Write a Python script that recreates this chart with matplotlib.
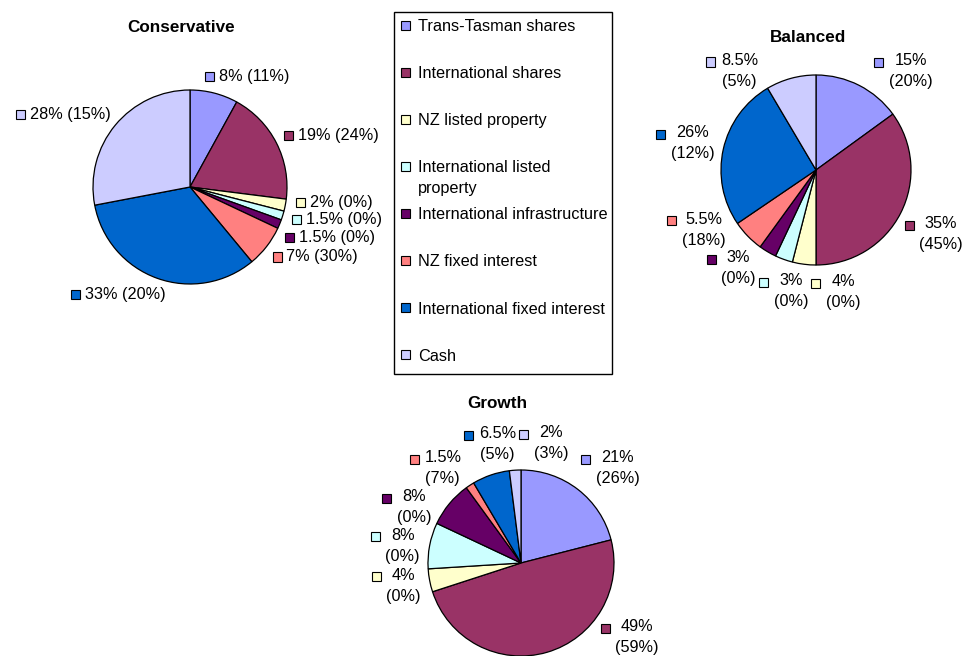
import numpy as np
import matplotlib
matplotlib.use("Agg")
import matplotlib.pyplot as plt
from matplotlib.patches import Rectangle
from matplotlib.offsetbox import DrawingArea, TextArea, HPacker, AnnotationBbox

# ---------------- data ----------------
categories = ["Trans-Tasman shares", "International shares", "NZ listed property",
              "International listed\nproperty", "International infrastructure",
              "NZ fixed interest", "International fixed interest", "Cash"]
colors = ["#9999FF", "#993366", "#FFFFCC", "#CCFFFF", "#660066",
          "#FF8080", "#0066CC", "#CCCCFF"]

conservative = [8, 19, 2, 1.5, 1.5, 7, 33, 28]
conservative_prev = [11, 24, 0, 0, 0, 30, 20, 15]
balanced = [15, 35, 4, 3, 3, 5.5, 26, 8.5]
balanced_prev = [20, 45, 0, 0, 0, 18, 12, 5]
growth = [21, 49, 4, 8, 8, 1.5, 6.5, 2]
growth_prev = [26, 59, 0, 0, 0, 7, 5, 3]

# ---------------- style / layout ----------------
plt.rcParams['font.family'] = ['Liberation Sans', 'DejaVu Sans']
W, H = 964, 656
FS = 11.7
TFS = 12.3
LS = 1.5
MK = 6.5       # marker size in points
L = 1.8        # half axis extent (in radii)
RL = 1.1       # label anchor radius
EXP = 0.25     # horizontal alignment shaping
TGAP = 7       # free band below a title (px)

fig = plt.figure(figsize=(W / 100, H / 100), dpi=100)
fig.patch.set_facecolor("white")


def px(x, y):
    """image pixel coordinates (top-left origin) -> figure fraction"""
    return x / W, 1 - y / H


def make_pie(cx, cy, r, vals):
    w = 2 * L * r / W
    h = 2 * L * r / H
    ax = fig.add_axes([cx / W - w / 2, 1 - cy / H - h / 2, w, h])
    wedges, _ = ax.pie(vals, colors=colors, startangle=90, counterclock=False,
                       wedgeprops=dict(edgecolor="black", linewidth=0.9))
    ax.set_xlim(-L, L)
    ax.set_ylim(-L, L)
    ax.set_aspect("equal")
    ax.axis("off")
    return ax, wedges


def fmt(v):
    return f"{v:g}%"


def make_box(text, color, two_line):
    ta = TextArea(text, textprops=dict(fontsize=FS, multialignment="center",
                                       linespacing=LS, color="black"))
    lh = FS * 1.15
    if two_line:
        da = DrawingArea(MK + 1, lh)
        da.add_artist(Rectangle((0.5, (lh - MK) / 2), MK, MK, facecolor=color,
                                edgecolor="black", lw=0.8))
        return HPacker(children=[da, ta], align="top", pad=0, sep=3.5)
    da = DrawingArea(MK + 1, MK + 1)
    da.add_artist(Rectangle((0.5, 0.5), MK, MK, facecolor=color,
                            edgecolor="black", lw=0.8))
    return HPacker(children=[da, ta], align="center", pad=0, sep=3)


def overlap(a, b, m=2):
    return not (a[2] + m <= b[0] or b[2] + m <= a[0] or a[3] + m <= b[1] or b[3] + m <= a[1])


def wrap(d):
    return (d + np.pi) % (2 * np.pi) - np.pi


def align(t):
    c = np.cos(t)
    bx = 0.5 - 0.5 * np.sign(c) * abs(c) ** EXP
    by = 0.5 - 0.5 * np.sin(t)
    return bx, by


def place_labels(ax, wedges, boxes, title_artist):
    fig.canvas.draw()
    renderer = fig.canvas.get_renderer()
    sizes = []
    for b in boxes:
        b.set_figure(fig)
        bb = b.get_bbox(renderer)
        sizes.append((bb.width, bb.height))
    cx, cy = ax.transData.transform((0, 0))
    rpx = ax.transData.transform((1, 0))[0] - cx
    th = [np.deg2rad((w.theta1 + w.theta2) / 2) for w in wedges]
    tb = title_artist.get_window_extent(renderer)
    # title band: spans the chart's width, labels stay below it
    band = (cx - L * rpx, tb.y0 - TGAP, cx + L * rpx, tb.y1)
    tphi = np.pi / 2

    def rect(t, s):
        ax_ = cx + RL * rpx * np.cos(t)
        ay_ = cy + RL * rpx * np.sin(t)
        bx, by = align(t)
        x0 = ax_ - bx * s[0]
        y0 = ay_ - by * s[1]
        return (x0, y0, x0 + s[0], y0 + s[1])

    step = np.deg2rad(0.5)
    n = len(th)
    for _ in range(800):
        moved = False
        rects = [rect(th[i], sizes[i]) for i in range(n)]
        for i in range(n):
            for j in range(i + 1, n):
                if overlap(rects[i], rects[j]):
                    d = wrap(th[i] - th[j])
                    sgn = 1 if d >= 0 else -1
                    th[i] += sgn * step
                    th[j] -= sgn * step
                    moved = True
        rects = [rect(th[i], sizes[i]) for i in range(n)]
        for i in range(n):
            r_ = rects[i]
            obst = []
            if overlap(r_, band, 0):
                obst.append(tphi)
            if r_[1] < 1:
                obst.append(-np.pi / 2)
            if r_[3] > H - 1:
                obst.append(np.pi / 2)
            if r_[0] < 1:
                obst.append(np.pi)
            if r_[2] > W - 1:
                obst.append(0.0)
            for phi in obst:
                d = wrap(th[i] - phi)
                th[i] += (1 if d >= 0 else -1) * step
                moved = True
        if not moved:
            break

    for t, b in zip(th, boxes):
        ab = AnnotationBbox(b, (RL * np.cos(t), RL * np.sin(t)), xycoords="data",
                            box_alignment=align(t),
                            frameon=False, pad=0, annotation_clip=False)
        ax.add_artist(ab)


def chart(title, tpos, center, r, vals, prev, two_line):
    ax, wedges = make_pie(center[0], center[1], r, vals)
    t = fig.text(*px(*tpos), title, ha="center", va="center",
                 fontsize=TFS, fontweight="bold")
    sep = "\n" if two_line else " "
    boxes = [make_box(f"{fmt(v)}{sep}({fmt(p)})", c, two_line)
             for v, p, c in zip(vals, prev, colors)]
    place_labels(ax, wedges, boxes, t)


chart("Conservative", (181.5, 27), (190, 187), 97, conservative, conservative_prev, False)
chart("Balanced", (808, 38), (816, 170), 95, balanced, balanced_prev, True)
chart("Growth", (497, 403), (521, 563), 93, growth, growth_prev, True)

# ---------------- legend (manual, Excel style) ----------------
lx0, ly0, lx1, ly1 = 394, 12, 612, 374
x0f, y1f = px(lx0, ly0)
x1f, y0f = px(lx1, ly1)
fig.patches.append(Rectangle((x0f, y0f), x1f - x0f, y1f - y0f, transform=fig.transFigure,
                             facecolor="white", edgecolor="black", lw=1.0, zorder=1))
first, spacing, lstep = 25, 47.1, 20.5
mk_px = 9
for i, (cat, col) in enumerate(zip(categories, colors)):
    yc = first + i * spacing
    mx, my = px(401, yc + mk_px / 2)
    fig.patches.append(Rectangle((mx, my), mk_px / W, mk_px / H, transform=fig.transFigure,
                                 facecolor=col, edgecolor="black", lw=0.8, zorder=2))
    for k, line in enumerate(cat.split("\n")):
        fig.text(*px(418, yc + k * lstep), line, ha="left", va="center_baseline",
                 fontsize=FS, zorder=3)

fig.savefig("out.png", dpi=100, facecolor="white")
